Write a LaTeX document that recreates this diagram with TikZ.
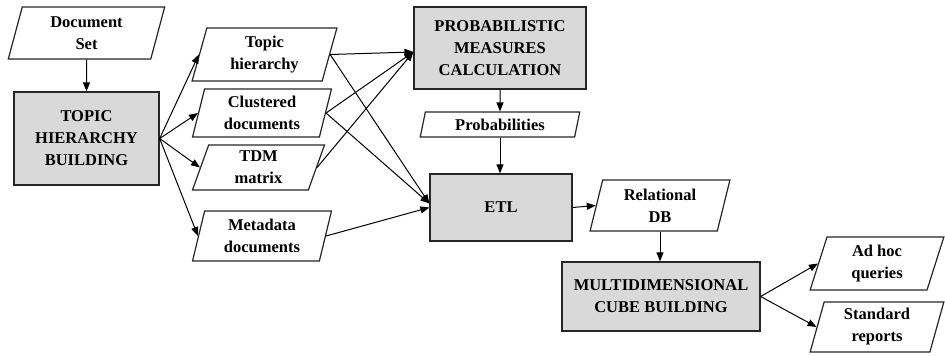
\documentclass[tikz,border=0pt]{standalone}
\usepackage{fontspec}
\setmainfont{Liberation Serif}
\usetikzlibrary{shapes.geometric, arrows.meta}
\begin{document}
\begin{tikzpicture}[
  x=1pt, y=-1pt,
  font=\fontsize{16.5}{22}\selectfont\bfseries,
  every node/.style={align=center, inner sep=1pt},
  data/.style    ={trapezium, trapezium left angle=77, trapezium right angle=103, trapezium stretches=true, draw=black!85, line width=1.2pt, fill=white},
  process/.style ={rectangle, draw=black!85, line width=1.3pt, fill=black!15},
  arr/.style     ={-{Triangle[length=9pt,width=7pt]}, draw=black, line width=1pt}
]
\useasboundingbox (0,0) rectangle (945,356);
% Grid coordinates: x, y in pixels of the page (y grows downwards)
% Col 1: input set and hierarchy building
\node[data, minimum width=157, minimum height=52]    (docset) at (86.5,33)    {Document\\Set};
\node[process, minimum width=145, minimum height=93] (topic)  at (86.5,138.5) {TOPIC\\HIERARCHY\\BUILDING};

% Col 2: outputs of the hierarchy building
\node[data, minimum width=145, minimum height=53] (hier)  at (264.5,54.5) {Topic\\hierarchy};
\node[data, minimum width=140, minimum height=48] (clust) at (262,113)   {Clustered\\documents};
\node[data, minimum width=133, minimum height=45] (tdm)   at (258.5,167.5) {TDM\\matrix};
\node[data, minimum width=140, minimum height=50] (meta)  at (262,236)   {Metadata\\documents};

% Col 3: probabilities and ETL
\node[process, minimum width=172, minimum height=82] (prob)  at (500,48)    {PROBABILISTIC\\MEASURES\\CALCULATION};
\node[data, minimum width=160, minimum height=25]    (probs) at (500,124.5) {Probabilities};
\node[process, minimum width=142, minimum height=67] (etl)   at (501,207.5) {ETL};

% Col 4: storage and cube
\node[data, minimum width=140, minimum height=51]    (reldb) at (660,205.5) {Relational\\DB};
\node[process, minimum width=198, minimum height=69] (cube)  at (661,296.5) {MULTIDIMENSIONAL\\CUBE BUILDING};

% Col 5: end products
\node[data, minimum width=134, minimum height=53] (adhoc)  at (877,263.5) {Ad hoc\\queries};
\node[data, minimum width=134, minimum height=50] (stdrep) at (877,327)   {Standard\\reports};

% Edges
\draw[arr] (docset) -- (topic);
\draw[arr] (topic.east) -- (hier.west);
\draw[arr] (topic.east) -- (clust.west);
\draw[arr] (topic.east) -- (tdm.west);
\draw[arr] (topic.east) -- (meta.west);
% all three converge on one point of the calculation box
\draw[arr] (hier.east)  -- ([yshift=-4pt]prob.west);
\draw[arr] (clust.east) -- ([yshift=-4pt]prob.west);
\draw[arr] (tdm.east)   -- ([yshift=-4pt]prob.west);
\draw[arr] (hier.east)  -- ([yshift=4pt]etl.west);
\draw[arr] (clust.east) -- ([yshift=4pt]etl.west);
\draw[arr] (meta.east)  -- (etl.west);
\draw[arr] (prob.south) -- (probs.north);
\draw[arr] (probs.south) -- (probs.south |- etl.north);
\draw[arr] (etl.east) -- (reldb.west);
\draw[arr] (reldb.south) -- (reldb.south |- cube.north);
\draw[arr] (cube.east) -- (adhoc.west);
\draw[arr] (cube.east) -- (stdrep.west);
\end{tikzpicture}
\end{document}
